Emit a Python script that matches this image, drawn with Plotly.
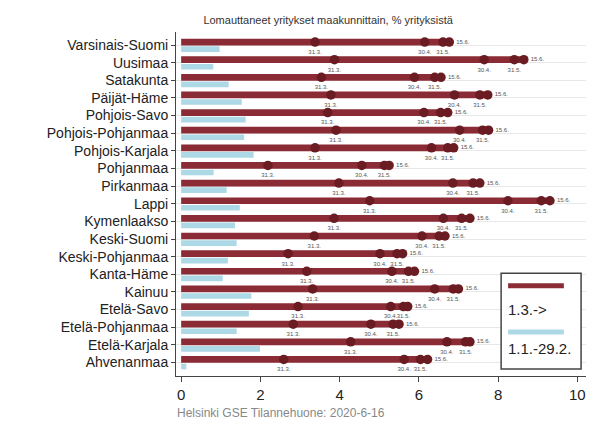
import plotly.graph_objects as go

regions = ["Varsinais-Suomi", "Uusimaa", "Satakunta", "Päijät-Häme", "Pohjois-Savo",
           "Pohjois-Pohjanmaa", "Pohjois-Karjala", "Pohjanmaa", "Pirkanmaa", "Lappi",
           "Kymenlaakso", "Keski-Suomi", "Keski-Pohjanmaa", "Kanta-Häme", "Kainuu",
           "Etelä-Savo", "Etelä-Pohjanmaa", "Etelä-Karjala", "Ahvenanmaa"]
jan_feb = [0.97, 0.81, 1.20, 1.53, 1.63, 1.59, 1.83, 0.82, 1.15, 1.48, 1.36, 1.40, 1.18, 1.05, 1.77, 1.71, 1.40, 1.99, 0.13]
mar31 = [3.38, 3.87, 3.54, 3.78, 3.70, 3.91, 3.38, 2.19, 3.98, 4.76, 3.86, 3.36, 2.70, 3.17, 3.32, 2.95, 2.83, 4.28, 2.59]
apr30 = [6.15, 7.65, 5.89, 6.90, 6.13, 7.03, 6.32, 4.56, 6.86, 8.25, 6.62, 6.08, 5.02, 5.32, 6.40, 5.29, 4.79, 6.71, 5.63]
may31 = [6.61, 8.41, 6.40, 7.54, 6.55, 7.61, 6.73, 5.13, 7.37, 9.09, 7.08, 6.51, 5.45, 5.74, 6.87, 5.61, 5.35, 7.18, 6.04]
jun15 = [6.77, 8.65, 6.56, 7.74, 6.73, 7.76, 6.88, 5.25, 7.54, 9.31, 7.29, 6.66, 5.59, 5.89, 7.00, 5.72, 5.50, 7.29, 6.22]
date_labels = ["31.3.", "30.4.", "31.5.", "15.6."]
legend_labels = ["1.3.->", "1.1.-29.2."]
x_ticks = [0, 2, 4, 6, 8, 10]

RED = "#8b2b35"
DOT = "#6a1c22"
BLUE = "#add8e6"
FONT = "Liberation Sans, Arial, sans-serif"

n = len(regions)
idx = list(range(n))
y_red = [i - 0.17 for i in idx]
y_blue = [i + 0.23 for i in idx]
y_lab = [i + 0.42 for i in idx]

fig = go.Figure()
fig.add_trace(go.Bar(x=jan_feb, y=y_blue, orientation="h", width=0.32,
                     marker=dict(color=BLUE, line=dict(width=0)), name=legend_labels[1]))
fig.add_trace(go.Bar(x=jun15, y=y_red, orientation="h", width=0.38,
                     marker=dict(color=RED, line=dict(width=0)), name=legend_labels[0]))

for vals, lab in zip([mar31, apr30, may31], date_labels[:3]):
    fig.add_trace(go.Scatter(x=vals, y=y_red, mode="markers",
                             marker=dict(size=9.5, color=DOT), hoverinfo="x"))
    fig.add_trace(go.Scatter(x=vals, y=y_lab, mode="text", text=[lab] * n,
                             textposition="middle center",
                             textfont=dict(size=6, color="#555555", family=FONT)))
fig.add_trace(go.Scatter(x=jun15, y=y_red, mode="markers+text", text=[date_labels[3]] * n,
                         textposition="middle right",
                         marker=dict(size=9.5, color=DOT),
                         textfont=dict(size=6, color="#555555", family=FONT)))

W, H = 586, 422  # page body adds an 8px margin around the figure
fig.update_layout(
    width=W, height=H,
    margin=dict(l=168, r=8, t=24, b=54, autoexpand=False),
    paper_bgcolor="white", plot_bgcolor="white",
    barmode="overlay", showlegend=False,
    font=dict(family=FONT),
    title=dict(text="Lomauttaneet yritykset maakunnittain, % yrityksistä",
               x=0.371, xref="paper", xanchor="center",
               y=1 - 12 / H, yref="container", yanchor="middle",
               font=dict(size=11, color="#333333", family=FONT)),
    xaxis=dict(range=[-0.13, 10.22], tickvals=x_ticks, ticks="outside", ticklen=5,
               tickcolor="#444444", showline=True, linecolor="#444444", linewidth=1,
               showgrid=False, zeroline=False, automargin=False,
               tickfont=dict(size=15, color="#222222", family=FONT)),
    yaxis=dict(range=[18.77, -0.74], tickvals=idx, ticktext=regions, ticks="outside",
               ticklen=4, tickcolor="#444444", showline=True, linecolor="#444444",
               linewidth=1, showgrid=True, gridcolor="#e8e8e8", gridwidth=1,
               zeroline=False, automargin=False,
               tickfont=dict(size=14, color="#222222", family=FONT)),
)

# legend box drawn in paper coordinates
fig.add_shape(type="rect", xref="paper", yref="paper", x0=0.793, x1=0.988, y0=0.020, y1=0.299,
              line=dict(color="#444444", width=1.5), fillcolor="white", layer="above")
fig.add_shape(type="line", xref="paper", yref="paper", x0=0.810, x1=0.946, y0=0.262, y1=0.262,
              line=dict(color=RED, width=5), layer="above")
fig.add_shape(type="line", xref="paper", yref="paper", x0=0.810, x1=0.946, y0=0.128, y1=0.128,
              line=dict(color=BLUE, width=5), layer="above")
fig.add_annotation(text=legend_labels[0], xref="paper", yref="paper", x=0.806, y=0.192,
                   xanchor="left", yanchor="middle", showarrow=False,
                   font=dict(size=15, color="#222222", family=FONT))
fig.add_annotation(text=legend_labels[1], xref="paper", yref="paper", x=0.806, y=0.081,
                   xanchor="left", yanchor="middle", showarrow=False,
                   font=dict(size=15, color="#222222", family=FONT))
fig.add_annotation(text="Helsinki GSE Tilannehuone: 2020-6-16", xref="paper", yref="paper",
                   x=-0.002, y=-0.108, xanchor="left", yanchor="middle", showarrow=False,
                   font=dict(size=12, color="#888888", family=FONT))

fig.write_html("out.html")
